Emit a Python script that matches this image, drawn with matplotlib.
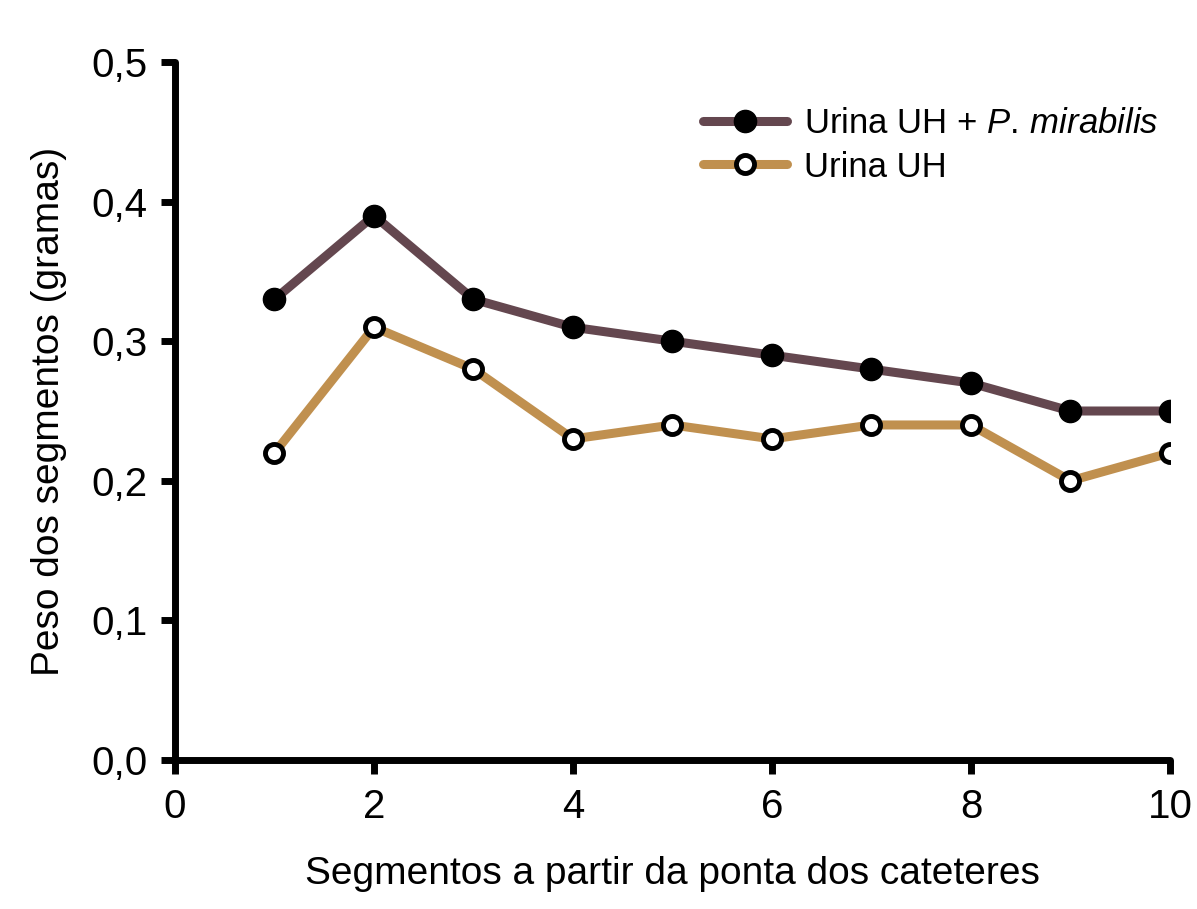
import matplotlib
matplotlib.use("Agg")
import matplotlib.pyplot as plt
from matplotlib.ticker import FuncFormatter

segmentos = [1, 2, 3, 4, 5, 6, 7, 8, 9, 10]
urina_pm = [0.33, 0.39, 0.33, 0.31, 0.30, 0.29, 0.28, 0.27, 0.25, 0.25]
urina_uh = [0.22, 0.31, 0.28, 0.23, 0.24, 0.23, 0.24, 0.24, 0.20, 0.22]

plt.rcParams['font.family'] = ['Liberation Sans', 'DejaVu Sans']
plt.rcParams['mathtext.fontset'] = 'custom'
plt.rcParams['mathtext.rm'] = 'Liberation Sans'
plt.rcParams['mathtext.it'] = 'Liberation Sans:italic'

fig = plt.figure(figsize=(11.97, 9.09), dpi=100)
ax = fig.add_axes([0.1462, 0.1639, 0.8312, 0.7679])

ax.plot(segmentos, urina_pm, color='#64474f', lw=6.5, marker='o', ms=16,
        mfc='black', mec='black', label='Urina UH + $\\it{P.\\,mirabilis}$',
        solid_capstyle='round', zorder=3)
ax.plot(segmentos, urina_uh, color='#c0904f', lw=6.5, marker='o', ms=13,
        mfc='white', mec='black', mew=3.5, label='Urina UH',
        solid_capstyle='round', zorder=3)

ax.set_xlim(0, 10)
ax.set_ylim(0, 0.5)
ax.set_xticks([0, 2, 4, 6, 8, 10])
ax.set_yticks([0, 0.1, 0.2, 0.3, 0.4, 0.5])
ax.yaxis.set_major_formatter(FuncFormatter(lambda v, p: f"{v:.1f}".replace('.', ',')))

for s in ['top', 'right']:
    ax.spines[s].set_visible(False)
for s in ['left', 'bottom']:
    ax.spines[s].set_linewidth(5)
    ax.spines[s].set_capstyle('round')
ax.tick_params(width=5, length=10, direction='out', labelsize=29, pad=10)

ax.set_xlabel('Segmentos a partir da ponta dos cateteres', fontsize=28, labelpad=22)
ax.set_ylabel('Peso dos segmentos (gramas)', fontsize=28, labelpad=17)

ax.legend(loc='upper right', bbox_to_anchor=(1.02, 0.98), frameon=False,
          fontsize=25, handlelength=2.4, handletextpad=0.5, labelspacing=0.3)

fig.savefig('out.png', dpi=100, facecolor='white')
